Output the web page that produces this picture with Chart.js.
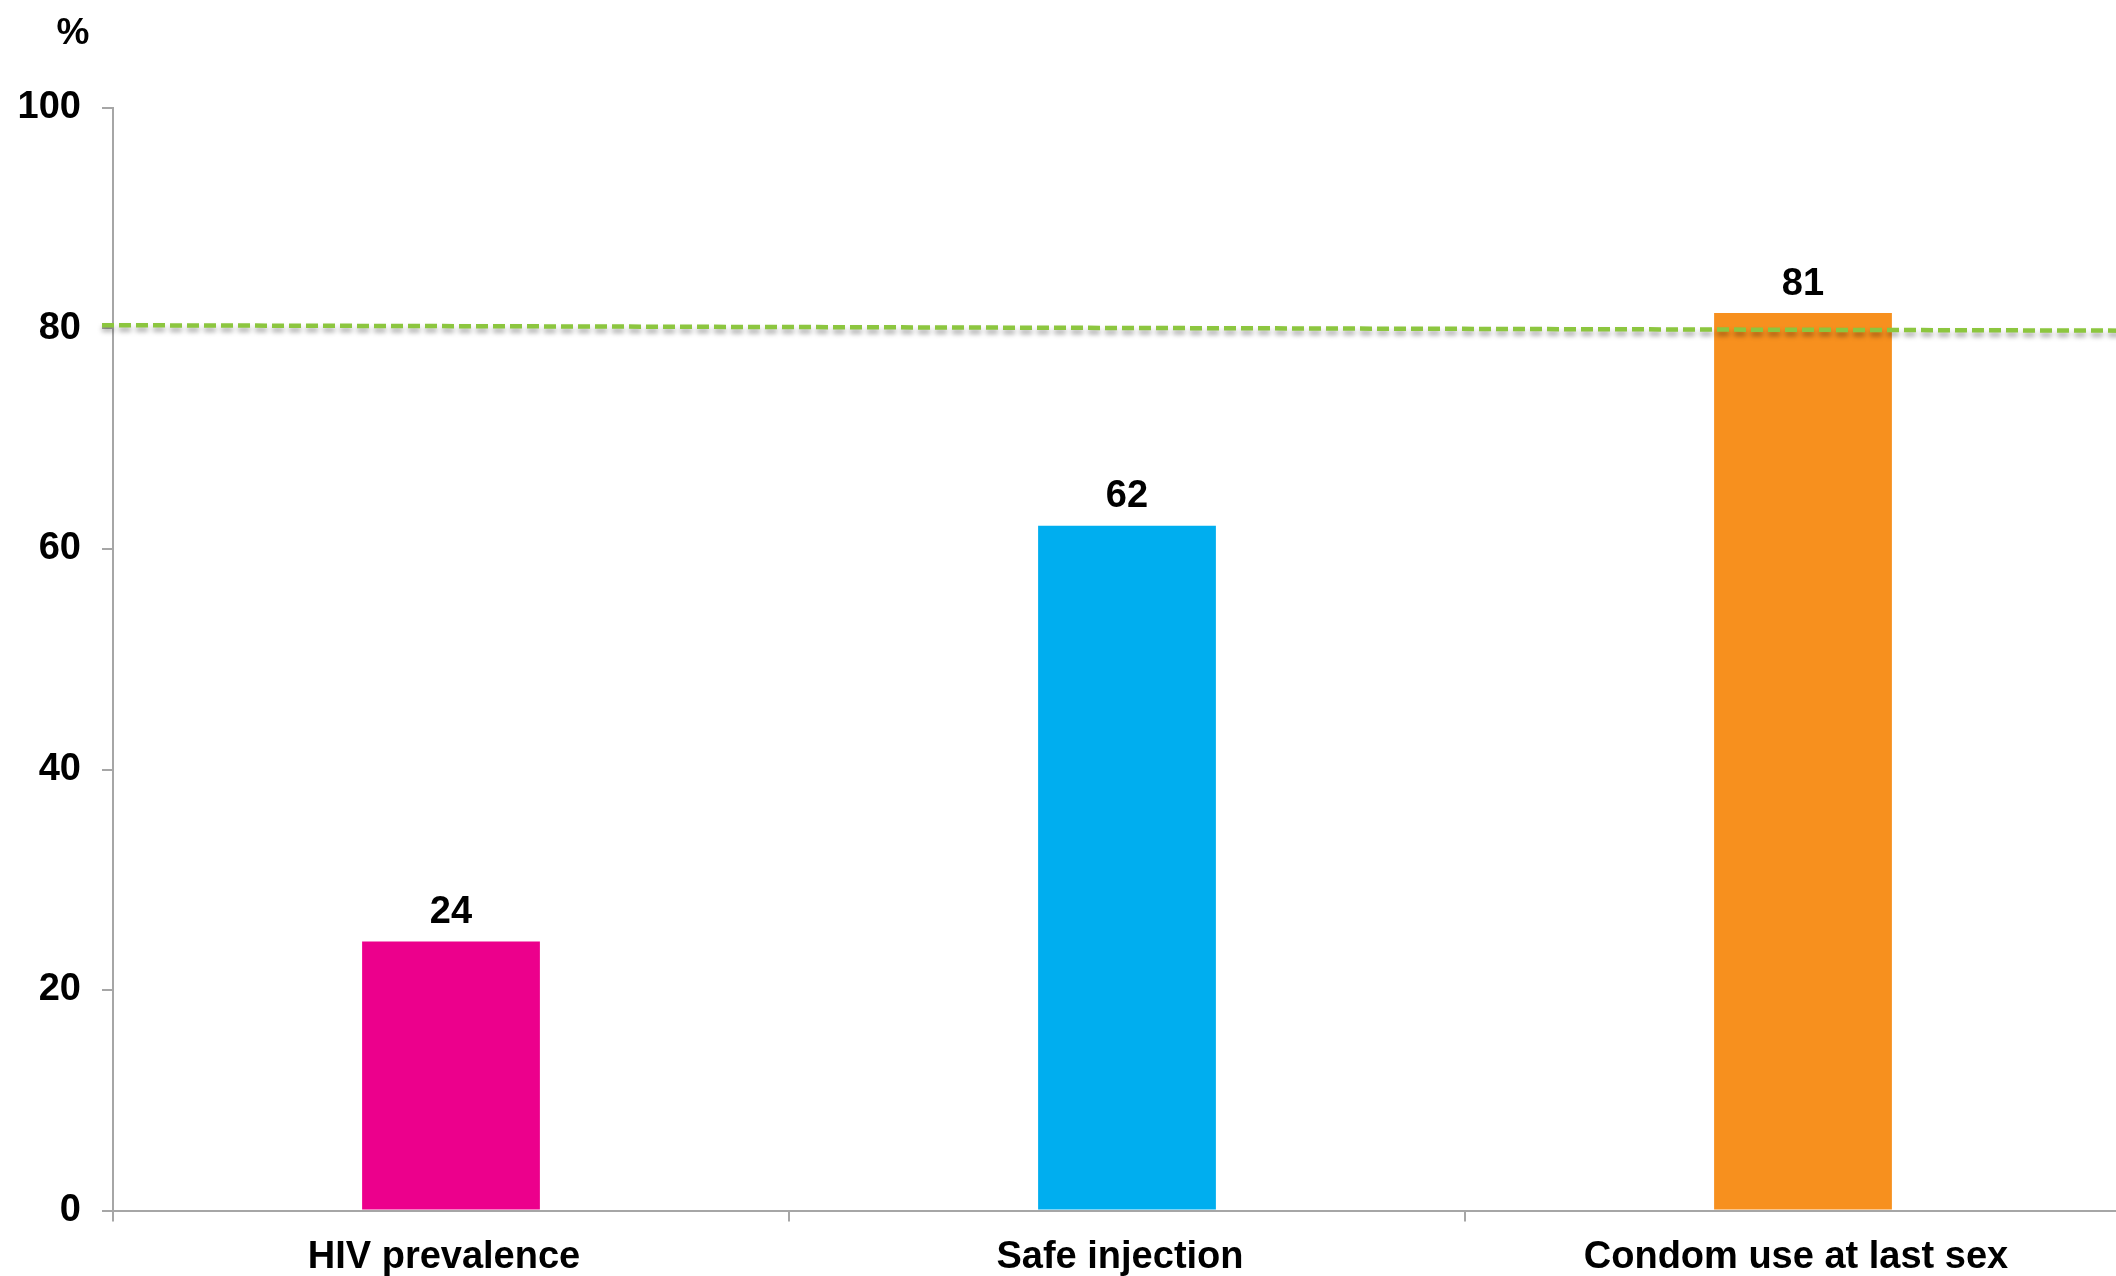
<!DOCTYPE html>
<html>
<head>
<meta charset="utf-8">
<script src="https://cdn.jsdelivr.net/npm/chart.js@4/dist/chart.umd.min.js"></script>
<style>
html,body{margin:0;padding:0;background:#fff;overflow:hidden;width:2116px;height:1276px;}
#wrap{position:absolute;left:0;top:0;width:2141px;height:1276px;}
</style>
</head>
<body>
<div id="wrap"><canvas id="c" width="2141" height="1276"></canvas></div>
<script>
const categories = ["HIV prevalence", "Safe injection", "Condom use at last sex"];
const values = [24.4, 62.1, 81.4];
const barColors = ["#EC008C", "#00AEEF", "#F7901E"];
const yTicks = [0, 20, 40, 60, 80, 100];
const targetStart = 80.3;
const targetEnd = 79.8;
const unitLabel = "%";

const FONT = "'Liberation Sans', Arial, sans-serif";

const extrasPlugin = {
  id: 'extras',
  afterDatasetsDraw(chart) {
    const ctx = chart.ctx;
    const y = chart.scales.y;
    const meta = chart.getDatasetMeta(0);
    // value labels
    ctx.save();
    ctx.font = "bold 38px " + FONT;
    ctx.fillStyle = "#000";
    ctx.textAlign = "center";
    ctx.textBaseline = "middle";
    meta.data.forEach((bar, i) => {
      ctx.fillText(String(Math.round(values[i])), bar.x, bar.y - 29);
    });
    ctx.restore();
    // target dashed line
    ctx.save();
    ctx.strokeStyle = "#8CC63F";
    ctx.lineWidth = 4.5;
    ctx.setLineDash([12, 5]);
    ctx.shadowColor = "rgba(0,0,0,0.35)";
    ctx.shadowBlur = 5;
    ctx.shadowOffsetY = 4;
    ctx.beginPath();
    ctx.moveTo(chart.chartArea.left - 11, y.getPixelForValue(targetStart));
    ctx.lineTo(chart.chartArea.right, y.getPixelForValue(targetEnd));
    ctx.stroke();
    ctx.restore();
    // unit label
    ctx.save();
    ctx.font = "bold 37px " + FONT;
    ctx.fillStyle = "#000";
    ctx.textAlign = "center";
    ctx.textBaseline = "middle";
    ctx.fillText(unitLabel, 73, 34);
    ctx.restore();
  }
};

new Chart(document.getElementById('c'), {
  type: 'bar',
  data: {
    labels: categories,
    datasets: [{
      data: values,
      backgroundColor: barColors,
      borderWidth: 0,
      barPercentage: 0.263,
      categoryPercentage: 1.0
    }]
  },
  options: {
    responsive: false,
    animation: false,
    devicePixelRatio: 1,
    layout: { padding: { top: 108, left: 0, right: 0, bottom: 0 } },
    plugins: { legend: { display: false }, tooltip: { enabled: false } },
    scales: {
      y: {
        min: 0, max: 100,
        afterBuildTicks(scale) { scale.ticks = yTicks.map(v => ({ value: v })); },
        afterFit(scale) { scale.width = 113; },
        grid: { drawOnChartArea: false, tickLength: 11, color: "#A6A6A6", lineWidth: 2 },
        border: { display: true, color: "#A6A6A6", width: 2 },
        ticks: { color: "#000", font: { family: FONT, size: 38, weight: 'bold' }, padding: 21 }
      },
      x: {
        afterFit(scale) { scale.height = 65.5; },
        grid: { drawOnChartArea: false, tickLength: 11, color: "#A6A6A6", lineWidth: 2, offset: true },
        border: { display: true, color: "#A6A6A6", width: 2 },
        ticks: { color: "#000", font: { family: FONT, size: 38, weight: 'bold' }, padding: 13, labelOffset: -7 }
      }
    }
  },
  plugins: [extrasPlugin]
});
</script>
</body>
</html>
